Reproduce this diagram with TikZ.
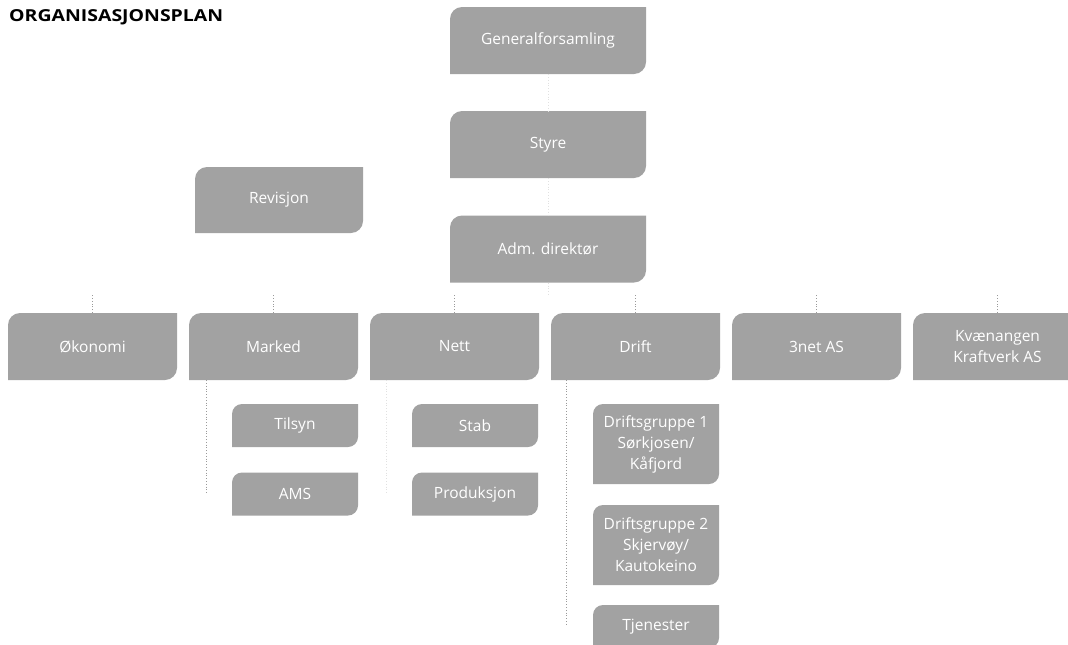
\documentclass[tikz,border=0pt]{standalone}
\usepackage{fontspec}
\setmainfont{Open Sans}
\newfontfamily\titlefont{Open Sans}
\usetikzlibrary{calc}
\definecolor{boxgray}{HTML}{A2A2A2}
\definecolor{linegray}{HTML}{9A9A9A}
\pgfkeys{/tikz/boxrad/.initial=12pt}
\tikzset{
  obox/.style={rectangle, inner sep=0pt, align=center, text=white,
    font=\fontsize{15.5}{21}\selectfont,
    path picture={
      \fill[boxgray] (path picture bounding box.north east)
        -- ([yshift=\pgfkeysvalueof{/tikz/boxrad}]path picture bounding box.south east)
        arc[start angle=0,end angle=-90,radius=\pgfkeysvalueof{/tikz/boxrad}]
        -- (path picture bounding box.south west)
        -- ([yshift=-\pgfkeysvalueof{/tikz/boxrad}]path picture bounding box.north west)
        arc[start angle=180,end angle=90,radius=\pgfkeysvalueof{/tikz/boxrad}]
        -- cycle;}},
  topbox/.style={obox, minimum width=196pt, minimum height=67pt, boxrad=12pt},
  rowbox/.style={obox, minimum width=169pt, minimum height=67pt, boxrad=12pt},
  kidbox/.style={obox, minimum width=126pt, minimum height=43pt, boxrad=10pt},
  tallkid/.style={obox, minimum width=126pt, minimum height=80pt, boxrad=10pt},
  conn/.style={draw=linegray, dotted, line width=0.8pt},
  faint/.style={draw=linegray!30, dotted, line width=0.8pt},
}
\begin{document}
\begin{tikzpicture}[x=1pt,y=-1pt]
\useasboundingbox (0,0) rectangle (1068,645);
\clip (0,0) rectangle (1068,645);
\fill[white] (0,0) rectangle (1068,645);

\node[anchor=base west, inner sep=0pt, font=\titlefont\bfseries\fontsize{16.5}{19}\selectfont] (title) at (9,21.5) {\scalebox{1.18}[1]{ORGANISASJONSPLAN}};

\node[topbox] (gen) at (548,40.5) {Generalforsamling};
\node[topbox] (styre) at (548,144.5) {Styre};
\node[topbox] (adm) at (548,249) {Adm. direktør};
\node[obox, minimum width=168pt, minimum height=66pt, boxrad=12pt] (rev) at (279,200) {Revisjon};

\node[rowbox] (oko) at (92.5,346.5) {Økonomi};
\node[rowbox] (mk) at (273.5,346.5) {Marked};
\node[rowbox] (nett) at (454.5,346.5) {Nett};
\node[rowbox] (drift) at (635.5,346.5) {Drift};
\node[rowbox] (tre) at (816.5,346.5) {3net AS};
\node[rowbox] (kv) at (997.5,346.5) {Kvænangen\\Kraftverk AS};

\node[kidbox] (tilsyn) at (295,425.5) {Tilsyn};
\node[kidbox] (ams) at (295,494) {AMS};
\node[kidbox] (stab) at (475,425.5) {Stab};
\node[kidbox] (prod) at (475,494) {Produksjon};
\node[tallkid] (dg1) at (656,444) {Driftsgruppe 1\\Sørkjosen/\\Kåfjord};
\node[tallkid] (dg2) at (656,545) {Driftsgruppe 2\\Skjervøy/\\Kautokeino};
\node[kidbox] (tj) at (656,626.5) {Tjenester};

% connectors
\coordinate (bus) at (548,295);
\draw[faint] (gen.south) -- (styre.north);
\draw[faint] (styre.south) -- (adm.north);
\draw[faint] (adm.south) -- (bus);
\foreach \n in {oko,mk,nett,drift,tre,kv}
  \draw[conn] (\n.north) -- (\n.north |- bus);

\coordinate (mkc) at ([xshift=18pt]mk.south west);
\draw[conn] (mkc) -- (mkc |- ams.west);
\coordinate (nettc) at ([xshift=17pt]nett.south west);
\draw[faint] (nettc) -- (nettc |- prod.west);
\coordinate (driftc) at ([xshift=16pt]drift.south west);
\draw[conn] (driftc) -- (driftc |- tj.west);
\end{tikzpicture}
\end{document}
